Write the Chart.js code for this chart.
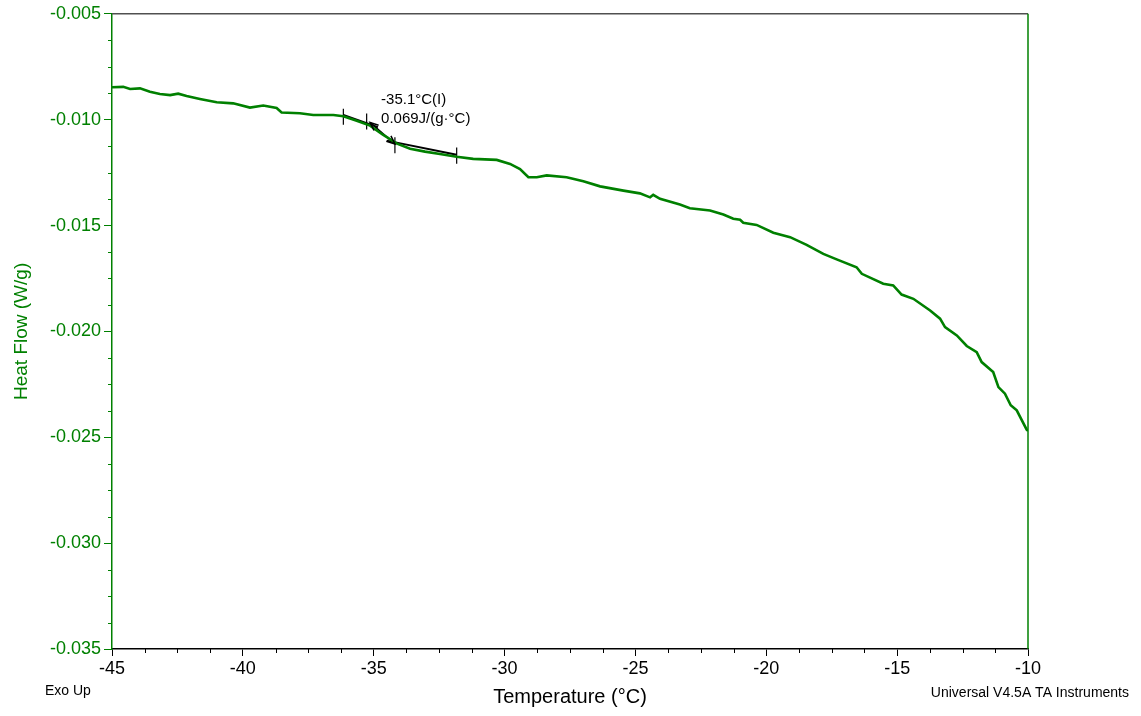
<!DOCTYPE html>
<html>
<head>
<meta charset="utf-8">
<script src="https://cdn.jsdelivr.net/npm/chart.js@4.4.1/dist/chart.umd.min.js"></script>
<style>
  body { margin: 0; background: #fff; }
  #wrap { width: 1141px; height: 716px; }
</style>
</head>
<body>
<div id="wrap"><canvas id="dsc" width="1141" height="716"></canvas></div>
<script>
// DSC trace
const temperature = [
  -45.0, -44.57, -44.31, -43.93, -43.55, -43.17, -42.78, -42.47, -42.15, -41.64,
  -41.0, -40.37, -39.73, -39.22, -38.71, -38.52, -37.82, -37.31, -36.54, -36.16,
  -35.65, -35.14, -34.65, -34.11, -33.61, -33.04, -32.47, -31.83, -31.2, -30.3,
  -29.79, -29.41, -29.09, -28.77, -28.39, -27.63, -26.99, -26.35, -25.46, -24.83,
  -24.44, -24.32, -24.06, -23.3, -22.92, -22.15, -21.64, -21.26, -21.0, -20.88,
  -20.37, -19.73, -19.09, -18.46, -17.82, -17.31, -16.55, -16.35, -15.53, -15.15,
  -14.83, -14.38, -13.74, -13.36, -13.17, -12.72, -12.34, -11.96, -11.77, -11.33,
  -11.13, -10.88, -10.66, -10.43, -10.05, -10.0
];
const heatFlow = [
  -0.00847, -0.00845, -0.00855, -0.00852, -0.00868, -0.00879, -0.00884, -0.00877, -0.00888, -0.00902,
  -0.00918, -0.00923, -0.00943, -0.00933, -0.00945, -0.00966, -0.00970, -0.00978, -0.00978, -0.00984,
  -0.01005, -0.01028, -0.01071, -0.01113, -0.01137, -0.01151, -0.01162, -0.01175, -0.01185, -0.01190,
  -0.01209, -0.01233, -0.01272, -0.01272, -0.01263, -0.01272, -0.01291, -0.01315, -0.01335, -0.01348,
  -0.01367, -0.01355, -0.01374, -0.01401, -0.01418, -0.01429, -0.01448, -0.01468, -0.01473, -0.01487,
  -0.01497, -0.01534, -0.01555, -0.01591, -0.01634, -0.01660, -0.01697, -0.01728, -0.01775, -0.01783,
  -0.01826, -0.01846, -0.01901, -0.01940, -0.01980, -0.02019, -0.02069, -0.02098, -0.02145, -0.02192,
  -0.02263, -0.02294, -0.02349, -0.02373, -0.02464, -0.02470
];

// glass transition analysis marks
const tangentBeforeT = [-36.16, -34.84];
const tangentBeforeHF = [-0.00978, -0.01036];
const tangentAfterT = [-34.5, -31.83];
const tangentAfterHF = [-0.01099, -0.01166];
const arrowT = [-35.14, -34.19];
const arrowHF = [-0.01013, -0.01115];
const markerT = [-36.16, -35.27, -34.19, -31.83];
const markerHF = [-0.00986, -0.01009, -0.01121, -0.0117];
const markerHalf = 0.00038;
const labelLines = ['-35.1°C(I)', '0.069J/(g·°C)'];
const labelT = -34.72;
const labelHF = [-0.00906, -0.00995];

const xMajor = [-45, -40, -35, -30, -25, -20, -15, -10];
const yMajor = [-0.035, -0.030, -0.025, -0.020, -0.015, -0.010, -0.005];
const xMinorPerMajor = 4;
const yMinorPerMajor = 4;

const GREEN = '#008000';
const FONT = 'Liberation Sans, Arial, sans-serif';

const withMinors = (majors, n) => {
  const out = [];
  for (let i = 0; i < majors.length - 1; i++) {
    const step = (majors[i + 1] - majors[i]) / n;
    for (let k = 0; k < n; k++) out.push(majors[i] + step * k);
  }
  out.push(majors[majors.length - 1]);
  return out;
};
const isMajor = (v, majors) => majors.some(m => Math.abs(m - v) < 1e-9);

const curve = temperature.map((t, i) => ({ x: t, y: heatFlow[i] }));
const pairs = (ts, hs) => ts.map((t, i) => ({ x: t, y: hs[i] }));
const markers = [];
markerT.forEach((t, i) => {
  markers.push({ x: t, y: markerHF[i] - markerHalf }, { x: t, y: markerHF[i] + markerHalf }, { x: t, y: null });
});

const lineSet = (data, color, width) => ({
  data, borderColor: color, borderWidth: width, pointRadius: 0, tension: 0, fill: false, spanGaps: false
});

const extras = {
  id: 'extras',
  afterDraw(chart) {
    const { ctx, chartArea: a, scales: { x, y } } = chart;
    ctx.save();
    // frame on top and right
    ctx.lineWidth = 1.5;
    ctx.strokeStyle = '#505050';
    ctx.beginPath(); ctx.moveTo(a.left, a.top); ctx.lineTo(a.right, a.top); ctx.stroke();
    ctx.strokeStyle = GREEN;
    ctx.beginPath(); ctx.moveTo(a.right, a.top); ctx.lineTo(a.right, a.bottom); ctx.stroke();

    // minor ticks
    ctx.lineWidth = 1;
    ctx.strokeStyle = '#000';
    x.ticks.forEach(t => {
      if (isMajor(t.value, xMajor)) return;
      const px = Math.round(x.getPixelForValue(t.value)) + 0.5;
      ctx.beginPath(); ctx.moveTo(px, a.bottom); ctx.lineTo(px, a.bottom + 4); ctx.stroke();
    });
    ctx.strokeStyle = GREEN;
    y.ticks.forEach(t => {
      if (isMajor(t.value, yMajor)) return;
      const py = Math.round(y.getPixelForValue(t.value)) + 0.5;
      ctx.beginPath(); ctx.moveTo(a.left - 4, py); ctx.lineTo(a.left, py); ctx.stroke();
    });

    // arrow heads on the step-height arrow
    const p0 = { x: x.getPixelForValue(arrowT[0]), y: y.getPixelForValue(arrowHF[0]) };
    const p1 = { x: x.getPixelForValue(arrowT[1]), y: y.getPixelForValue(arrowHF[1]) };
    const head = (tip, from) => {
      const ang = Math.atan2(tip.y - from.y, tip.x - from.x);
      ctx.beginPath();
      ctx.moveTo(tip.x - 9 * Math.cos(ang - 0.4), tip.y - 9 * Math.sin(ang - 0.4));
      ctx.lineTo(tip.x, tip.y);
      ctx.lineTo(tip.x - 9 * Math.cos(ang + 0.4), tip.y - 9 * Math.sin(ang + 0.4));
      ctx.stroke();
    };
    ctx.strokeStyle = '#000';
    ctx.lineWidth = 1.5;
    head(p0, p1);
    head(p1, p0);

    // analysis label
    ctx.fillStyle = '#000';
    ctx.font = '15px ' + FONT;
    ctx.textAlign = 'left';
    ctx.textBaseline = 'middle';
    labelLines.forEach((s, i) => {
      ctx.fillText(s, x.getPixelForValue(labelT), y.getPixelForValue(labelHF[i]));
    });

    // footer notes
    ctx.font = '14px ' + FONT;
    ctx.textAlign = 'left';
    ctx.fillText('Exo Up', 45, 691);
    ctx.textAlign = 'right';
    ctx.fillText('Universal V4.5A TA Instruments', 1129, 693);
    ctx.restore();
  }
};

new Chart(document.getElementById('dsc'), {
  type: 'scatter',
  data: {
    datasets: [
      { ...lineSet(curve, GREEN, 2.6), showLine: true },
      { ...lineSet(pairs(tangentBeforeT, tangentBeforeHF), '#000', 2), showLine: true },
      { ...lineSet(pairs(tangentAfterT, tangentAfterHF), '#000', 2), showLine: true },
      { ...lineSet(pairs(arrowT, arrowHF), '#000', 1.5), showLine: true },
      { ...lineSet(markers, '#000', 1.2), showLine: true }
    ]
  },
  options: {
    responsive: false,
    animation: false,
    layout: { padding: { left: 0, right: 113, top: 13, bottom: 0 } },
    plugins: { legend: { display: false }, tooltip: { enabled: false } },
    scales: {
      x: {
        type: 'linear',
        min: -45, max: -10,
        afterBuildTicks: s => { s.ticks = withMinors(xMajor, xMinorPerMajor).map(v => ({ value: v })); },
        afterFit: s => { s.height = 67; },
        ticks: {
          autoSkip: false, maxRotation: 0, padding: 2, color: '#000',
          font: { family: FONT, size: 18 },
          callback: v => isMajor(v, xMajor) ? String(Math.round(v)) : ''
        },
        grid: {
          drawOnChartArea: false, tickLength: 7, tickWidth: 1,
          tickColor: c => (c.tick && isMajor(c.tick.value, xMajor)) ? '#000' : 'rgba(0,0,0,0)'
        },
        border: { color: '#000', width: 1.5 },
        title: {
          display: true, text: 'Temperature (°C)', color: '#000',
          font: { family: FONT, size: 20 }, padding: { top: 0, bottom: 7 }
        }
      },
      y: {
        type: 'linear',
        min: -0.035, max: -0.005,
        afterBuildTicks: s => { s.ticks = withMinors(yMajor, yMinorPerMajor).map(v => ({ value: v })); },
        afterFit: s => { s.width = 112; },
        ticks: {
          autoSkip: false, padding: 3, color: GREEN,
          font: { family: FONT, size: 18 },
          callback: v => isMajor(v, yMajor) ? v.toFixed(3) : ''
        },
        grid: {
          drawOnChartArea: false, tickLength: 8, tickWidth: 1,
          tickColor: c => (c.tick && isMajor(c.tick.value, yMajor)) ? GREEN : 'rgba(0,0,0,0)'
        },
        border: { color: GREEN, width: 1.5 },
        title: {
          display: true, text: 'Heat Flow (W/g)', color: GREEN,
          font: { family: FONT, size: 19 }, padding: { top: 10, bottom: 0 }
        }
      }
    }
  },
  plugins: [extras]
});
</script>
</body>
</html>
